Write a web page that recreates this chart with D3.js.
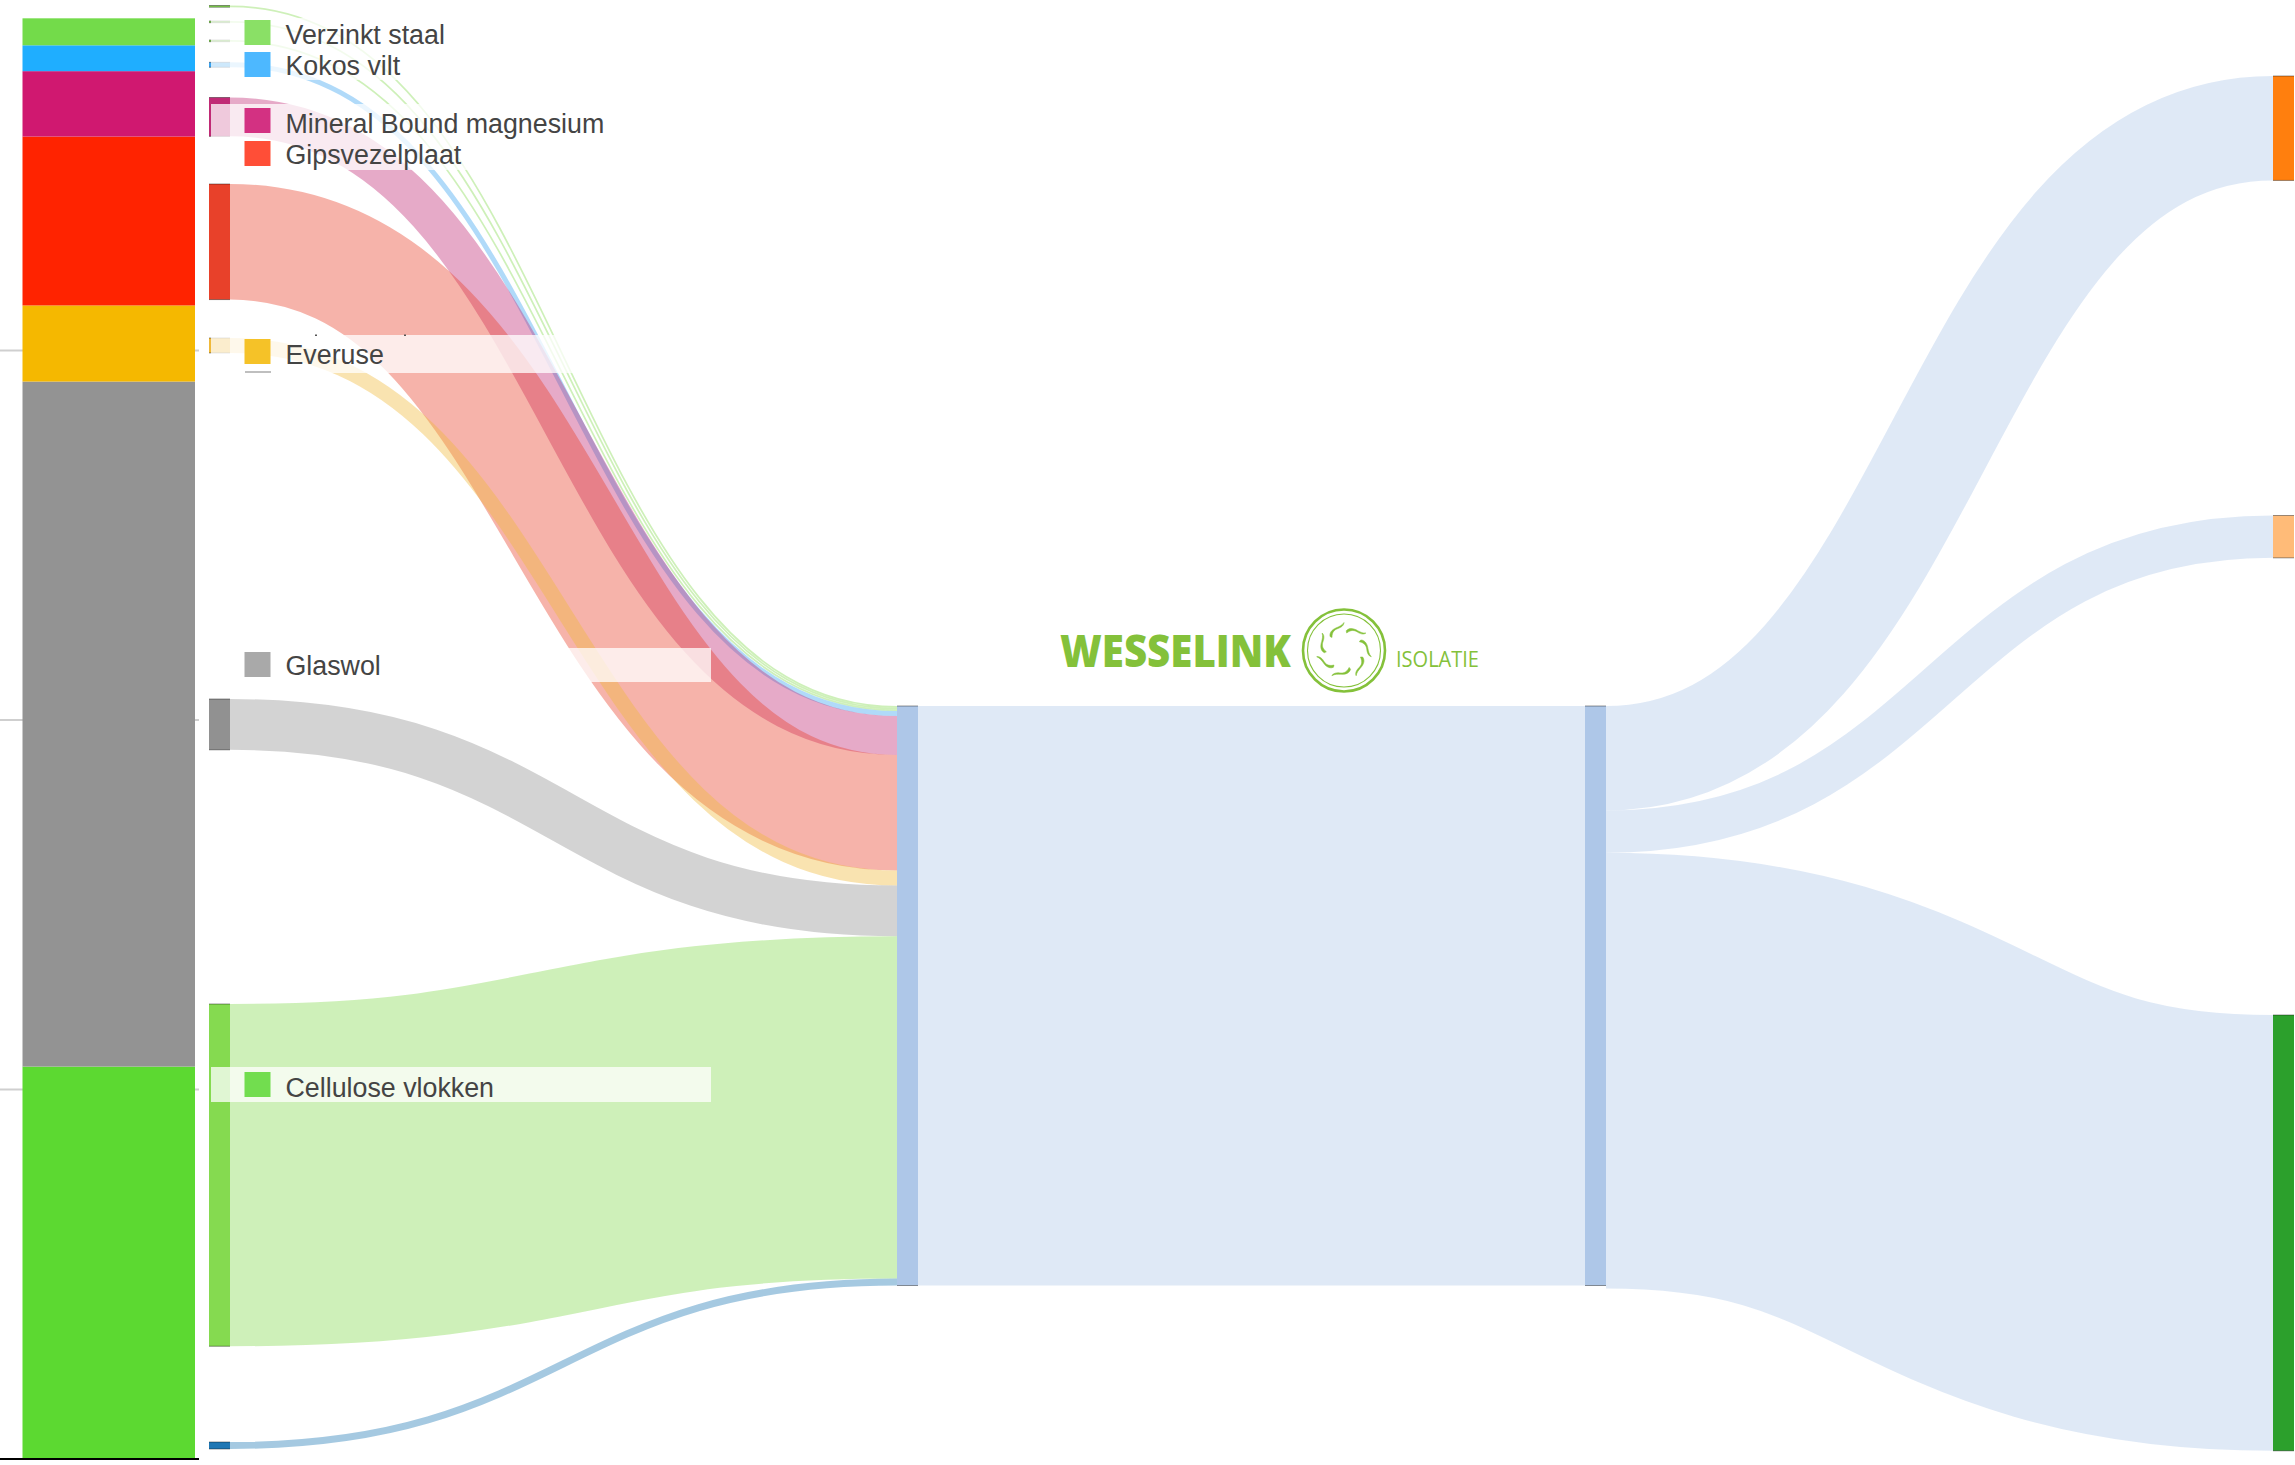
<!DOCTYPE html>
<html><head><meta charset="utf-8">
<style>html,body{margin:0;padding:0;background:#fff;overflow:hidden}svg{display:block}</style>
<script src="https://cdn.jsdelivr.net/npm/d3@7/dist/d3.min.js"></script>
</head><body><div id="chart"></div>
<script>
// ---- data ----
const stackCategories = ["Cellulose vlokken","Glaswol","Everuse","Gipsvezelplaat","Mineral Bound magnesium","Kokos vilt","Verzinkt staal"];
const stackValues = [106.2,185.4,20.6,45.7,17.7,7.0,7.3];
const stackColors = ["#5cd931","#939393","#f5b800","#ff2300","#d01870","#1faeff","#73db4a"];
const gridValues = [100,200,300];

const sourceNames = ["Verzinkt staal","Overig 1","Overig 2","Kokos vilt","Mineral Bound magnesium","Gipsvezelplaat","Everuse","Glaswol","Cellulose vlokken","Overig 3"];
const sourceValues = [1.7,1.7,1.7,5,39,116,15,51,343.5,7];
const sourceColors = ["#85da50","#85da50","#85da50","#3aa3f0","#c02a75","#e8412a","#f0b939","#919191","#85da50","#1f77b4"];

const middleNames = ["Wesselink in","Wesselink uit"];
const outNames = ["Uitvoer A","Uitvoer B","Uitvoer C"];
const outValues = [104.8,42.5,437.4];
const outColors = ["#ff7f0e","#ffbb78","#2ca02c"];

const legendNames = ["Verzinkt staal","Kokos vilt","Mineral Bound magnesium","Gipsvezelplaat","Everuse","Glaswol","Cellulose vlokken"];
const legendColors = ["#8ae066","#4db8ff","#d33182","#ff4e37","#f5c228","#a9a9a9","#72dd4f"];

// ---- layout (kept apart from the data) ----
const W=2295,H=1465;
const sourceTops=[5.5,21,40,62.3,97.5,184,338,699,1004,1442];
const outTops=[76,515.5,1015];
const midTop=706, linkAlpha=0.4;
const col={sx0:209,sx1:230,m0x0:897,m0x1:918,m1x0:1585,m1x1:1606,tx0:2273,tx1:2294};
const legendSwatchY=[20,52,108,141,339,652,1072];
const legendBaseY=[43.5,74.5,132.5,163.5,363.5,674.5,1096.5];
const bands=[[18,80],[104,170],[335,373],[648,682],[1067,1102]];

const svg=d3.select("#chart").append("svg").attr("width",W).attr("height",H).attr("viewBox",`0 0 ${W} ${H}`);

// stacked column with its value axis
const yStack=d3.scaleLinear().domain([0,400]).range([1459,1459-4*369.5]);
svg.append("g").selectAll("line").data(gridValues).join("line")
  .attr("x1",0).attr("x2",199).attr("y1",d=>yStack(d)).attr("y2",d=>yStack(d))
  .attr("stroke","#cfcfcf").attr("stroke-width",2);
let acc=0;
const stackRows=stackValues.map((v,i)=>{const r={v,y0:acc,y1:acc+v,c:stackColors[i],n:stackCategories[i]};acc+=v;return r;});
svg.append("g").selectAll("rect").data(stackRows).join("rect")
  .attr("x",22.5).attr("width",172.5)
  .attr("y",d=>yStack(d.y1)).attr("height",d=>yStack(d.y0)-yStack(d.y1))
  .attr("fill",d=>d.c);
svg.append("line").attr("x1",0).attr("x2",199).attr("y1",yStack(0)).attr("y2",yStack(0)).attr("stroke","#000").attr("stroke-width",2);

// sankey
const total=d3.sum(sourceValues);
const k=d3.scaleLinear().domain([0,total]).range([0,579.5]);
const link=d3.linkHorizontal().x(d=>d[0]).y(d=>d[1]);
const gLinks=svg.append("g").attr("fill","none");
function addLink(x0,y0,x1,y1,w,c){
  gLinks.append("path").attr("d",link({source:[x0,y0],target:[x1,y1]}))
   .attr("stroke",c).attr("stroke-opacity",linkAlpha).attr("stroke-width",w);
}
const nodes=[];
let yIn=midTop;
sourceValues.forEach((v,i)=>{
  const h=k(v);
  addLink(col.sx1,sourceTops[i]+h/2,col.m0x0,yIn+h/2,h,sourceColors[i]);
  nodes.push({x0:col.sx0,x1:col.sx1,y:sourceTops[i],h,c:sourceColors[i]});
  yIn+=h;
});
const midH=yIn-midTop;
addLink(col.m0x1,midTop+midH/2,col.m1x0,midTop+midH/2,midH,"#aec7e8");
nodes.push({x0:col.m0x0,x1:col.m0x1,y:midTop,h:midH,c:"#aec7e8"});
nodes.push({x0:col.m1x0,x1:col.m1x1,y:midTop,h:midH,c:"#aec7e8"});
let yOut=midTop;
outValues.forEach((v,i)=>{
  const h=k(v);
  addLink(col.m1x1,yOut+h/2,col.tx0,outTops[i]+h/2,h,"#aec7e8");
  nodes.push({x0:col.tx0,x1:col.tx1,y:outTops[i],h,c:outColors[i]});
  yOut+=h;
});
const gN=svg.append("g");
gN.selectAll("rect.n").data(nodes).join("rect").attr("class","n")
  .attr("x",d=>d.x0).attr("width",d=>d.x1-d.x0).attr("y",d=>d.y).attr("height",d=>d.h).attr("fill",d=>d.c);
gN.selectAll("path.e").data(nodes).join("path").attr("class","e")
  .attr("d",d=>`M${d.x0},${d.y}H${d.x1}M${d.x0},${d.y+d.h}H${d.x1}`)
  .attr("stroke","#000").attr("stroke-opacity",0.4).attr("stroke-width",1).attr("fill","none");

// translucent legend bands
svg.append("g").selectAll("rect").data(bands).join("rect")
  .attr("x",211).attr("width",500).attr("y",d=>d[0]).attr("height",d=>d[1]-d[0])
  .attr("fill","#fff").attr("fill-opacity",0.75);
// leftovers of hidden legend rows
svg.append("line").attr("x1",245).attr("x2",271).attr("y1",372).attr("y2",372).attr("stroke","#aaa").attr("stroke-width",1.5);
svg.append("g").selectAll("rect").data([315,404]).join("rect").attr("x",d=>d).attr("y",334.5).attr("width",2).attr("height",1.5).attr("fill","#555");

// legend
const gL=svg.append("g");
legendNames.forEach((n,i)=>{
  gL.append("rect").attr("x",244.5).attr("y",legendSwatchY[i]).attr("width",26).attr("height",25).attr("fill",legendColors[i]);
  gL.append("text").attr("x",285.5).attr("y",legendBaseY[i]).text(n)
    .attr("font-family","'Liberation Sans',Arial,sans-serif").attr("font-size",26.8).attr("fill","#444");
});

// logo
const logoGreen="#84c13a";
const logo=svg.append("g");
logo.append("text").attr("x",1060).attr("y",667).text("WESSELINK")
  .attr("font-family","'Open Sans',sans-serif").attr("font-weight",800).attr("font-size",45)
  .attr("fill",logoGreen).attr("textLength",231).attr("lengthAdjust","spacingAndGlyphs");
logo.append("text").attr("x",1396).attr("y",667).text("ISOLATIE")
  .attr("font-family","'Open Sans',sans-serif").attr("font-weight",400).attr("font-size",22)
  .attr("fill",logoGreen).attr("textLength",83).attr("lengthAdjust","spacingAndGlyphs");
const cx=1344,cy=650.5;
logo.append("circle").attr("cx",cx).attr("cy",cy).attr("r",41).attr("fill","none").attr("stroke",logoGreen).attr("stroke-width",2.6);
logo.append("circle").attr("cx",cx).attr("cy",cy).attr("r",36.5).attr("fill","none").attr("stroke",logoGreen).attr("stroke-width",1.1);
d3.range(7).forEach(i=>{
  logo.append("path").attr("d","M-14,-14 C-15,-19 -10,-22 -7,-23 C-5,-24 -2,-25 0,-28 C0,-25 -3,-23 -6,-22 C-9,-21 -12,-19 -12,-13 Z")
   .attr("transform",`translate(${cx},${cy}) rotate(${i*360/7})`)
   .attr("fill",logoGreen).attr("stroke",logoGreen).attr("stroke-width",0.5);
});
</script></body></html>
